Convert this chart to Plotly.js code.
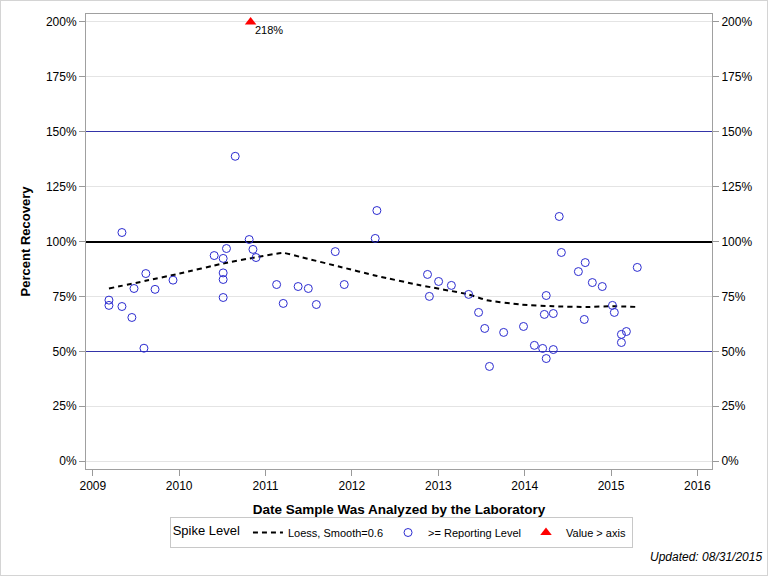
<!DOCTYPE html>
<html>
<head>
<meta charset="utf-8">
<script src="https://cdn.plot.ly/plotly-3.0.1.min.js"></script>
<style>
  html, body { margin: 0; padding: 0; background: #fff; }
  #wrap { position: relative; width: 768px; height: 576px; }
  #chart { width: 768px; height: 576px; }
  #frame { position: absolute; left: 0; top: 0; width: 766px; height: 574px; border: 1px solid #d4d4d4; pointer-events: none; }
</style>
</head>
<body>
<div id="wrap"><div id="chart"></div><div id="frame"></div></div>
<script>
// Sample analysis dates and percent recovery (>= reporting level)
const sampleDates = [
  '2009-03-10','2009-03-10','2009-05-04','2009-05-04','2009-06-15','2009-06-24','2009-08-05','2009-08-13','2009-09-21','2009-12-06',
  '2010-05-29','2010-07-06','2010-07-06','2010-07-06','2010-07-06','2010-07-20','2010-08-26','2010-10-24','2010-11-09','2010-11-22',
  '2011-02-17','2011-03-17','2011-05-19','2011-07-01','2011-08-04','2011-10-23','2011-11-30','2012-04-09','2012-04-16',
  '2012-11-16','2012-11-24','2013-01-02','2013-02-25','2013-05-09','2013-06-20','2013-07-16','2013-08-05','2013-10-04','2013-12-27',
  '2014-02-11','2014-03-18','2014-03-25','2014-04-02','2014-04-02','2014-05-02','2014-05-02','2014-05-27','2014-06-05','2014-08-16',
  '2014-09-10','2014-09-14','2014-10-14','2014-11-25','2015-01-07','2015-01-15','2015-02-14','2015-02-14','2015-03-07','2015-04-22'
];
const recovery = [
  73.3, 70.9, 104.1, 70.4, 65.4, 78.6, 51.4, 85.4, 78.2, 82.4,
  93.6, 92.3, 85.7, 82.7, 74.5, 96.8, 138.8, 100.9, 96.4, 92.7,
  80.4, 71.8, 79.5, 78.6, 71.3, 95.4, 80.4, 101.4, 114.1,
  85.0, 75.0, 81.8, 80.0, 75.9, 67.7, 60.4, 43.1, 58.6, 61.3,
  52.7, 51.3, 66.8, 75.4, 46.7, 67.2, 50.8, 111.4, 95.0, 86.3,
  64.5, 90.4, 81.3, 79.5, 70.9, 67.7, 57.7, 54.0, 59.0, 88.2
];

// Loess fit (smooth = 0.6)
const loessDates = ['2009-03-10','2009-08-12','2010-01-03','2010-07-06','2010-11-16','2011-03-17','2011-05-27','2011-11-11',
  '2012-04-17','2012-10-16','2013-05-08','2013-07-24','2013-12-13','2014-05-02','2014-09-21','2015-01-07','2015-04-22'];
const loessValues = [78.6, 82.1, 85.4, 90.0, 92.7, 94.8, 93.0, 88.5,
  84.3, 80.1, 75.9, 73.3, 71.3, 70.5, 70.2, 70.5, 70.2];

// Values above the axis maximum
const overDates = ['2010-10-30'];
const overValues = [218];

const axisMax = 200;
const yTicks = [0, 25, 50, 75, 100, 125, 150, 175, 200];
const yTickText = ['0%', '25%', '50%', '75%', '100%', '125%', '150%', '175%', '200%'];
const gridTicks = [0, 25, 75, 125, 175, 200];
const limitLines = [50, 150];
const targetLine = [100];
const xTicks = ['2009-01-01','2010-01-01','2011-01-01','2012-01-01','2013-01-01','2014-01-01','2015-01-01','2016-01-01'];
const xTickText = ['2009','2010','2011','2012','2013','2014','2015','2016'];

const FONT = 'Liberation Sans, Arial, sans-serif';
const yRange = [-3.6, 203.6];

const dummy = ax => ({x: [xTicks[0]], y: [null], yaxis: ax, type: 'scatter', mode: 'markers', showlegend: false, hoverinfo: 'skip'});

const traces = [
  dummy('y3'), dummy('y4'), dummy('y5'), dummy('y2'),
  {
    x: loessDates, y: loessValues, type: 'scatter', mode: 'lines',
    name: 'Loess, Smooth=0.6',
    line: {color: '#000', width: 2, dash: '5px,4px', shape: 'spline', smoothing: 0.5},
    hoverinfo: 'skip'
  },
  {
    x: sampleDates, y: recovery, type: 'scatter', mode: 'markers',
    name: '>= Reporting Level',
    marker: {symbol: 'circle-open', size: 8, color: '#2b2bd0', line: {width: 1, color: '#2b2bd0'}}
  },
  {
    x: overDates, y: overValues.map(v => Math.min(v, axisMax)), type: 'scatter', mode: 'markers',
    name: 'Value > axis',
    marker: {symbol: 'triangle-up', size: 10, color: '#ff0000'}
  }
];

const annotations = overDates.map((d, i) => ({
  xref: 'x', yref: 'y', x: d, y: Math.min(overValues[i], axisMax),
  xanchor: 'left', yanchor: 'middle', xshift: 2, yshift: -8, showarrow: false,
  text: overValues[i] + '%', font: {family: FONT, size: 11, color: '#000'}
}));
annotations.push({
  xref: 'paper', yref: 'paper', x: (764 - 86) / 625.7, y: -(557 - 469) / 455,
  xanchor: 'right', yanchor: 'middle', showarrow: false,
  text: '<i>Updated: 08/31/2015</i>', font: {family: FONT, size: 12, color: '#000'}
});

const gridAxis = (vals, color, width) => ({
  range: yRange, tickmode: 'array', tickvals: vals, overlaying: 'y', anchor: 'x', side: 'left',
  showticklabels: false, ticks: '', showgrid: true, gridcolor: color, gridwidth: width,
  zeroline: false, showline: false
});

const layout = {
  width: 768, height: 576,
  margin: {l: 86, r: 56, t: 14, b: 107},
  paper_bgcolor: '#fff', plot_bgcolor: '#fff',
  font: {family: FONT, size: 12, color: '#000'},
  showlegend: true,
  xaxis: {
    type: 'date', range: ['2008-12-03', '2016-03-03'],
    tickmode: 'array', tickvals: xTicks, ticktext: xTickText,
    ticks: 'outside', ticklen: 6, tickcolor: '#999', tickwidth: 1,
    showgrid: false, zeroline: false,
    showline: true, linecolor: '#a0a0a0', linewidth: 1, mirror: true,
    tickfont: {family: FONT, size: 12, color: '#000'},
    title: {text: 'Date Sample Was Analyzed by the Laboratory', font: {family: FONT, size: 13.5, weight: 'bold', color: '#000'}, standoff: 12}
  },
  yaxis: {
    range: yRange, tickmode: 'array', tickvals: yTicks, ticktext: yTickText,
    ticks: 'outside', ticklen: 6, tickcolor: '#999', tickwidth: 1,
    showgrid: false, zeroline: false,
    showline: true, linecolor: '#a0a0a0', linewidth: 1, mirror: true,
    tickfont: {family: FONT, size: 12, color: '#000'},
    title: {text: 'Percent Recovery', font: {family: FONT, size: 13, weight: 'bold', color: '#000'}, standoff: 12}
  },
  yaxis2: {
    range: yRange, tickmode: 'array', tickvals: yTicks, ticktext: yTickText,
    overlaying: 'y', side: 'right', anchor: 'x',
    ticks: 'outside', ticklen: 6, tickcolor: '#999', tickwidth: 1,
    showgrid: false, zeroline: false, showline: false,
    tickfont: {family: FONT, size: 12, color: '#000'}
  },
  yaxis3: gridAxis(gridTicks, '#e4e4e4', 1),
  yaxis4: gridAxis(limitLines, '#3434a8', 1),
  yaxis5: gridAxis(targetLine, '#000000', 2),
  legend: {
    orientation: 'h', x: 0.5034, xanchor: 'center', y: -0.1055, yanchor: 'top',
    bordercolor: '#c8c8c8', borderwidth: 1, bgcolor: '#fff',
    font: {family: FONT, size: 11, color: '#000'},
    title: {text: 'Spike Level', font: {family: FONT, size: 13, color: '#000'}, side: 'left'},
    traceorder: 'normal', itemwidth: 30
  },
  annotations: annotations
};

Plotly.newPlot('chart', traces, layout, {displayModeBar: false, staticPlot: true});
</script>
</body>
</html>
